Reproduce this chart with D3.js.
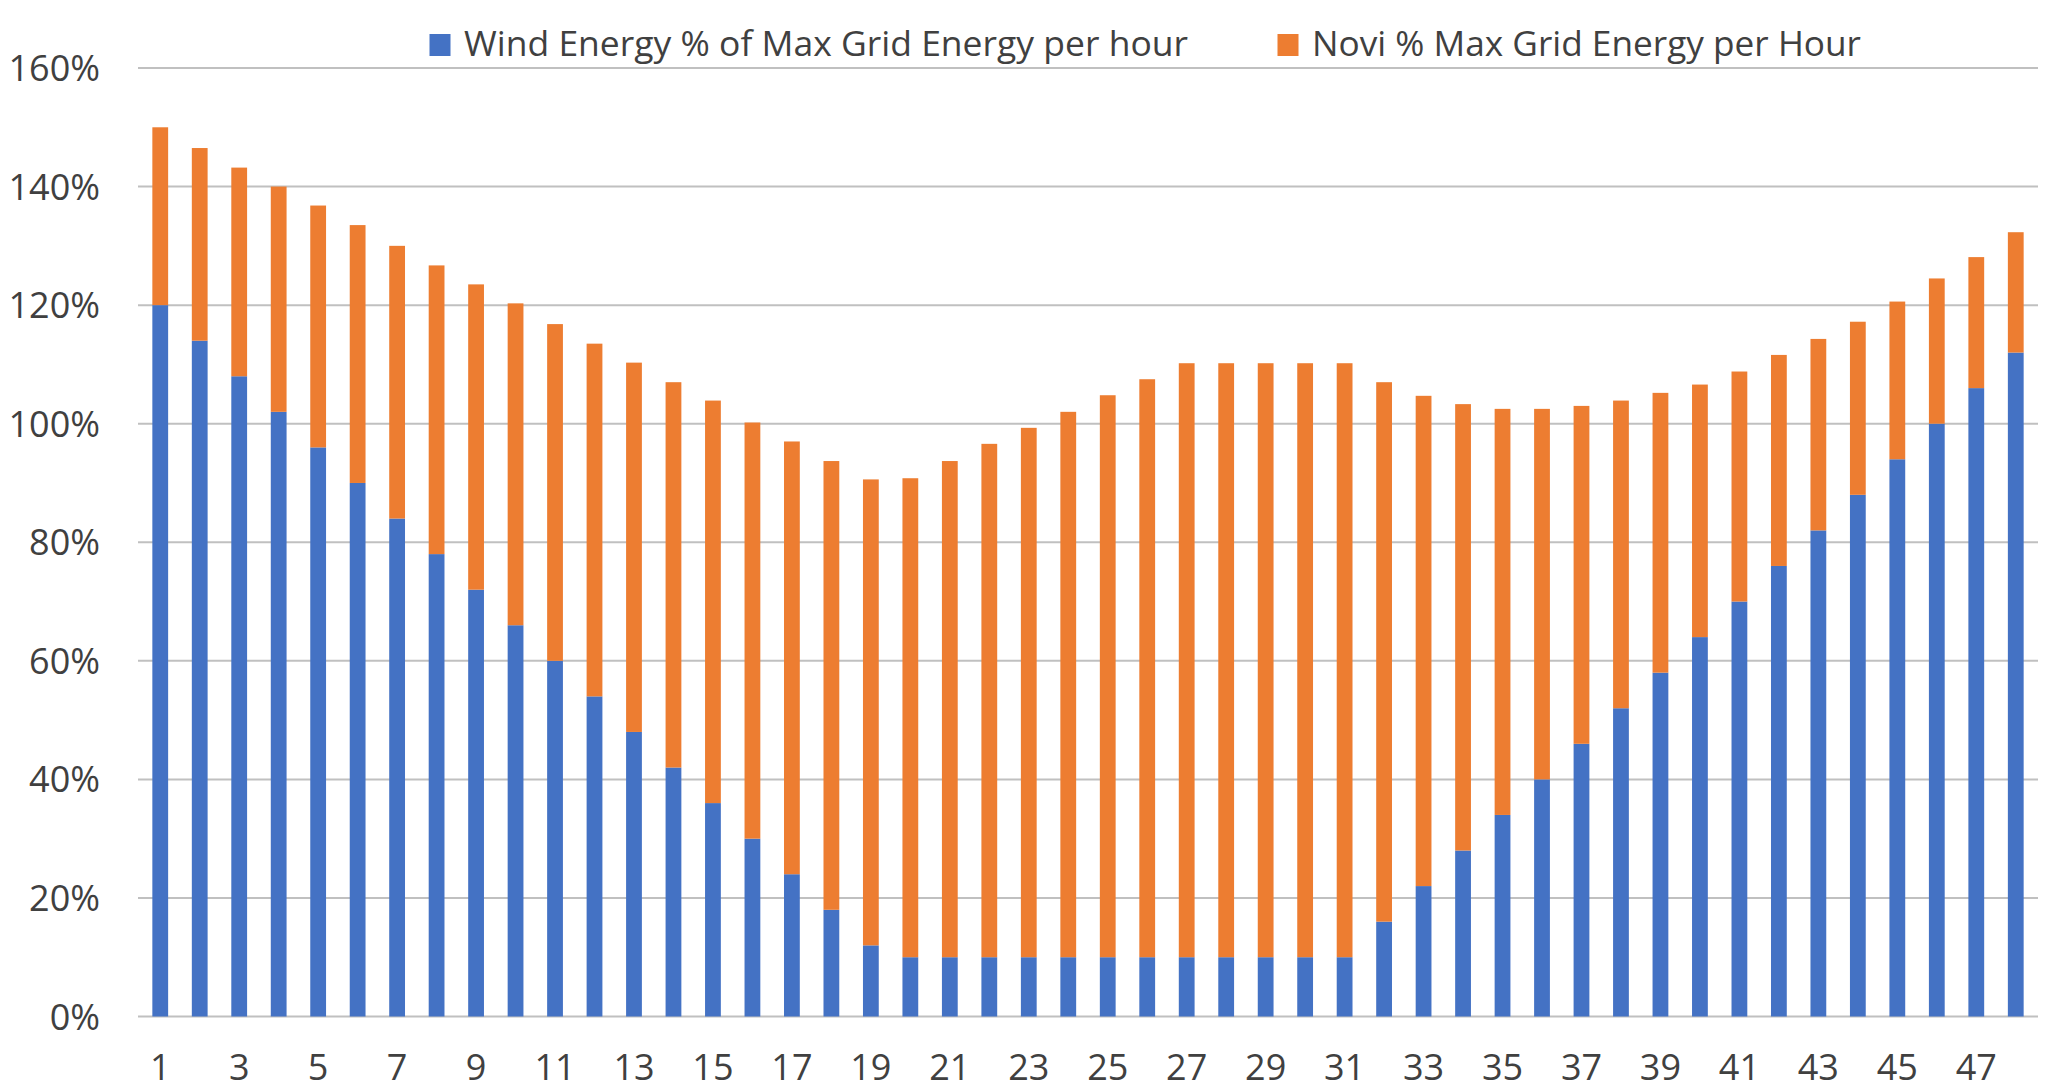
<!DOCTYPE html>
<html>
<head>
<meta charset="utf-8">
<script src="https://cdn.jsdelivr.net/npm/d3@7"></script>
<style>
  html, body { margin: 0; padding: 0; background: #fff; }
  svg { display: block; }
  text { font-family: "Open Sans", "Noto Sans", sans-serif; fill: #404040; }
</style>
</head>
<body>
<script>
// ---- data ----
const categories = d3.range(1, 49).map(String);
const seriesNames = ["Wind Energy % of Max Grid Energy per hour", "Novi % Max Grid Energy per Hour"];
const windValues = [120, 114, 108, 102, 96, 90, 84, 78, 72, 66, 60, 54, 48, 42, 36, 30, 24, 18, 12,
  10, 10, 10, 10, 10, 10, 10, 10, 10, 10, 10, 10,
  16, 22, 28, 34, 40, 46, 52, 58, 64, 70, 76, 82, 88, 94, 100, 106, 112];
const noviValues = [30, 32.5, 35.2, 38, 40.8, 43.5, 46, 48.7, 51.5, 54.3, 56.8, 59.5, 62.3, 65, 67.9, 70.2, 73, 75.7, 78.6,
  80.8, 83.7, 86.6, 89.3, 92, 94.8, 97.5, 100.2, 100.2, 100.2, 100.2, 100.2,
  91, 82.7, 75.3, 68.5, 62.5, 57, 51.9, 47.2, 42.6, 38.8, 35.6, 32.3, 29.2, 26.6, 24.5, 22.1, 20.3];
const yTicks = [0, 20, 40, 60, 80, 100, 120, 140, 160];
const xTickLabels = categories.filter((d, i) => i % 2 === 0);
const colors = ["#4472C4", "#ED7D31"];

// ---- layout ----
const W = 2048, H = 1091;
const plot = { left: 140.5, right: 2035.5, top: 68, bottom: 1016.5, gridL: 138, gridR: 2038 };

const svg = d3.select("body").append("svg").attr("width", W).attr("height", H);

const x = d3.scaleBand().domain(categories).range([plot.left, plot.right])
  .paddingInner(0.6).paddingOuter(0.3);
const y = d3.scaleLinear().domain([0, 160]).range([plot.bottom, plot.top]);

// gridlines
svg.append("g").selectAll("line").data(yTicks).join("line")
  .attr("x1", plot.gridL).attr("x2", plot.gridR)
  .attr("y1", d => y(d)).attr("y2", d => y(d))
  .attr("stroke", "#c0c0c0").attr("stroke-width", 2);

// y axis labels
const yAxis = d3.axisLeft(y).tickValues(yTicks).tickFormat(d => d + "%").tickSize(0).tickPadding(0);
const gy = svg.append("g").attr("transform", `translate(100,0)`).call(yAxis);
gy.select(".domain").remove();
gy.selectAll("text").attr("font-size", 36).style("font-family", '"Open Sans", sans-serif').attr("fill", "#404040").attr("dy", "0.35em");

// stacked bars
const rows = categories.map((c, i) => ({ cat: c, wind: windValues[i], novi: noviValues[i] }));
const stack = d3.stack().keys(["wind", "novi"])(rows);
svg.append("g").selectAll("g").data(stack).join("g")
  .attr("fill", (d, i) => colors[i])
  .selectAll("rect").data(d => d).join("rect")
  .attr("x", d => x(d.data.cat))
  .attr("width", x.bandwidth())
  .attr("y", d => y(d[1]))
  .attr("height", d => y(d[0]) - y(d[1]));

// x axis labels
const xAxis = d3.axisBottom(x).tickValues(xTickLabels).tickSize(0).tickPadding(0);
const gx = svg.append("g").attr("transform", `translate(0,1080)`).call(xAxis);
gx.select(".domain").remove();
gx.selectAll("text").attr("font-size", 36).style("font-family", '"Open Sans", sans-serif').attr("fill", "#404040").attr("dy", 0).attr("y", 0);

// legend
const legendItems = [
  { name: seriesNames[0], color: colors[0], sx: 429.5, tx: 464, tw: 724 },
  { name: seriesNames[1], color: colors[1], sx: 1277.5, tx: 1312, tw: 549 }
];
const lg = svg.append("g");
legendItems.forEach(it => {
  lg.append("rect").attr("x", it.sx).attr("y", 34).attr("width", 21).attr("height", 22).attr("fill", it.color);
  lg.append("text").attr("x", it.tx).attr("y", 56).attr("font-size", 34)
    .attr("textLength", it.tw).attr("lengthAdjust", "spacingAndGlyphs")
    .text(it.name);
});
</script>
</body>
</html>
